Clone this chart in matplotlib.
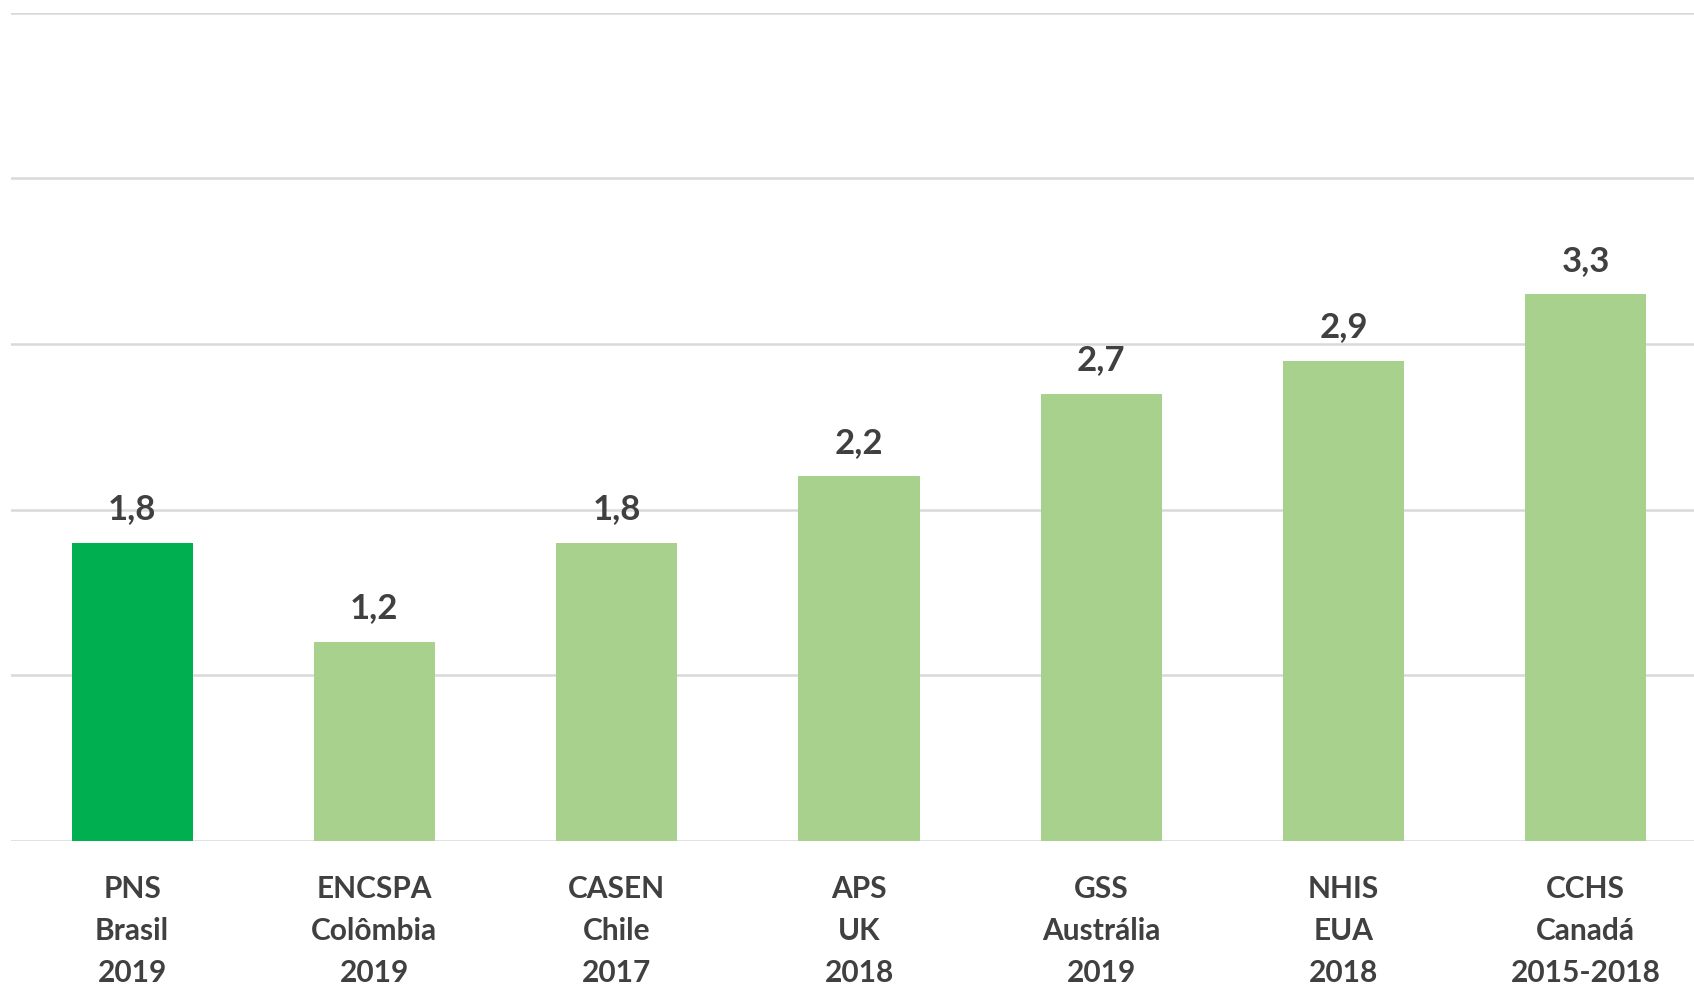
import matplotlib
matplotlib.use("Agg")
import matplotlib.pyplot as plt

# data
labels = ["PNS\nBrasil\n2019", "ENCSPA\nColômbia\n2019", "CASEN\nChile\n2017",
          "APS\nUK\n2018", "GSS\nAustrália\n2019", "NHIS\nEUA\n2018",
          "CCHS\nCanadá\n2015-2018"]
values = [1.8, 1.2, 1.8, 2.2, 2.7, 2.9, 3.3]
colors = ["#00B050"] + ["#A9D18E"] * 6

plt.rcParams["font.family"] = ["Lato", "DejaVu Sans"]
text_color = "#404040"

fig = plt.figure(figsize=(16.94, 9.874), dpi=100)
ax = fig.add_axes([11 / 1694, 146 / 987, 1696 / 1694, 828 / 987])

x = range(len(values))
bars = ax.bar(x, values, width=0.5, color=colors, zorder=2)

for xi, v in zip(x, values):
    ax.annotate(f"{v:.1f}".replace(".", ","), (xi, v), xytext=(0, 13),
                textcoords="offset points", ha="center", va="bottom",
                fontsize=25, fontweight="bold", color=text_color)

ax.set_ylim(0, 5)
ax.set_xlim(-0.5, 6.5)
ax.set_yticks([0, 1, 2, 3, 4, 5])
ax.yaxis.grid(True, color="#D9D9D9", linewidth=1.8, zorder=0)
ax.tick_params(axis="y", left=False, labelleft=False)
ax.tick_params(axis="x", bottom=False, pad=21)
ax.set_xticks(list(x))
ax.set_xticklabels(labels, fontsize=21.5, fontweight="bold", color=text_color,
                   linespacing=1.6)
for s in ax.spines.values():
    s.set_visible(False)

fig.savefig("out.png", dpi=100)
